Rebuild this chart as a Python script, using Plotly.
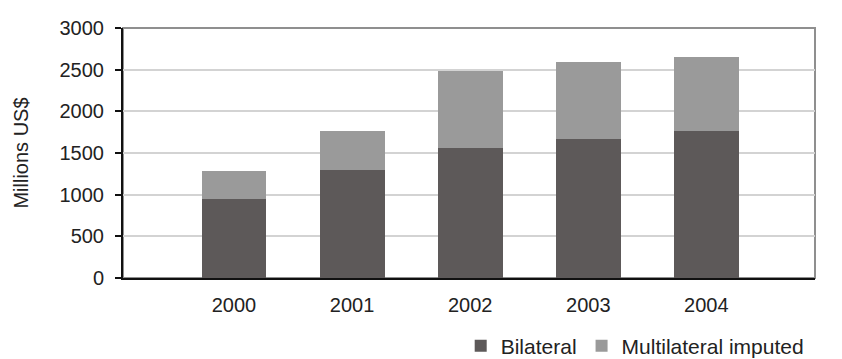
import plotly.graph_objects as go

years = ["2000", "2001", "2002", "2003", "2004"]
bilateral = [950, 1300, 1560, 1670, 1765]
multilateral_total = [1290, 1760, 2480, 2590, 2655]
multilateral_imputed = [t - b for t, b in zip(multilateral_total, bilateral)]
y_ticks = [0, 500, 1000, 1500, 2000, 2500, 3000]

font_family = "Liberation Sans, Arial, sans-serif"

fig = go.Figure()
fig.add_trace(go.Bar(
    x=years, y=bilateral, name="Bilateral",
    marker=dict(color="#5d5959", line=dict(width=0)),
    width=0.55,
))
fig.add_trace(go.Bar(
    x=years, y=multilateral_imputed, name="Multilateral imputed",
    marker=dict(color="#9a9a9a", line=dict(width=0)),
    width=0.55,
))

fig.update_layout(
    barmode="stack",
    width=842, height=359,
    margin=dict(l=123, r=27, t=28, b=81, autoexpand=False),
    paper_bgcolor="white",
    plot_bgcolor="white",
    font=dict(family=font_family, size=20, color="#222222"),
    showlegend=True,
    legend=dict(
        orientation="h",
        x=0.488, xanchor="left", xref="paper",
        y=-0.272, yanchor="middle", yref="paper",
        font=dict(size=21, color="#222222"),
        itemwidth=30,
        traceorder="normal",
        bgcolor="rgba(0,0,0,0)",
    ),
    shapes=[dict(
        type="rect", xref="paper", yref="paper",
        x0=0, x1=1, y0=0, y1=1,
        line=dict(color="#8f8f8f", width=2),
        layer="below",
    )],
)

fig.update_xaxes(
    type="category",
    range=[-0.94, 4.92],
    showgrid=False,
    showline=True, linecolor="#111111", linewidth=2,
    ticks="", tickfont=dict(size=20, color="#222222"),
    ticklabelstandoff=8,
)
fig.update_yaxes(
    range=[0, 3000],
    tickvals=y_ticks,
    showgrid=True, gridcolor="#d3d3d3", gridwidth=2,
    showline=True, linecolor="#111111", linewidth=2,
    ticks="outside", ticklen=6, tickwidth=1.5, tickcolor="#111111",
    tickfont=dict(size=20, color="#222222"),
    ticklabelstandoff=7,
    zeroline=False,
    title=dict(text="Millions US$", font=dict(size=20, color="#222222"), standoff=26),
)

fig.write_html("out.html")
